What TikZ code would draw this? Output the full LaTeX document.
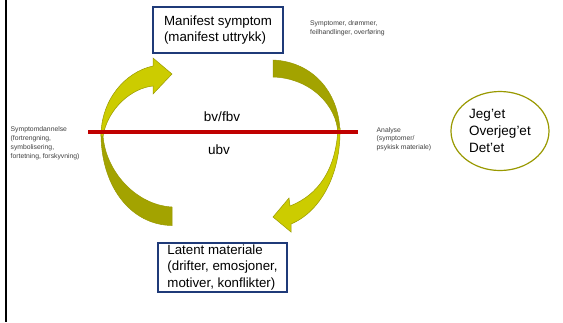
\documentclass[tikz,border=0pt]{standalone}
\usepackage{fontspec}
\setmainfont{Liberation Sans}
\usetikzlibrary{shapes.geometric}
\definecolor{lightY}{HTML}{CCCC00}
\definecolor{darkY}{HTML}{A3A300}
\definecolor{edgeY}{HTML}{999900}
\definecolor{boxblue}{HTML}{1F3A78}
\definecolor{redline}{HTML}{C00000}
\definecolor{smallgray}{HTML}{404040}
\tikzset{
  bigbox/.style={draw=boxblue, line width=1.3pt, fill=white, align=left, inner xsep=0pt,
    inner ysep=1pt, font=\fontsize{13.3}{16.5}\selectfont},
  smalltxt/.style={align=left, inner sep=0pt, anchor=west, text=smallgray,
    font=\fontsize{6.8}{8.8}\selectfont},
  midtxt/.style={inner sep=0pt, font=\fontsize{13.5}{17}\selectfont},
  backface/.style={fill=darkY, draw=edgeY, line width=0.5pt},
  frontface/.style={fill=lightY, draw=edgeY, line width=0.5pt},
}
\begin{document}
\begin{tikzpicture}[x=1pt, y=-1pt]
\useasboundingbox (0,0) rectangle (563,322);
\fill[white] (0,0) rectangle (563,322);
% left border bar
\draw[line width=2.3pt, black] (6.2,0) -- (6.2,322);

% left arrow (back face, then front face)
\fill[backface] (101,131) .. controls (100,185) and (130,225) .. (172,225.5)
  -- (172,207) .. controls (135,205) and (105,170) .. (103,135) -- cycle;
\fill[frontface] (101,136) .. controls (101,100) and (125,72) .. (153,66)
  -- (153,58) -- (172,74) -- (153,94) -- (153,86)
  .. controls (132,88) and (108,108) .. (103,136) -- cycle;

% right arrow
\fill[backface] (273,60) .. controls (315,62) and (340,95) .. (340,134)
  -- (338,134) .. controls (337,105) and (310,78) .. (273,77) -- cycle;
\fill[frontface] (340,128) .. controls (341,175) and (320,212) .. (291,224)
  -- (291,232) -- (273,217) -- (289,198) -- (290,206)
  .. controls (318,195) and (336,170) .. (338,128) -- cycle;

% boxes
\node[bigbox, minimum width=130pt, minimum height=46pt] (manifest) at (218,30)
  {Manifest symptom\\(manifest uttrykk)};
\node[bigbox, minimum width=129pt, minimum height=49pt] (latent) at (222.5,267.5)
  {Latent materiale\\(drifter, emosjoner,\\motiver, konflikter)};

% ellipse
\node[draw=edgeY, line width=1.2pt, ellipse, minimum width=98pt, minimum height=79pt,
  align=left, inner sep=0pt, font=\fontsize{13.5}{16.8}\selectfont] (ego) at (500,131)
  {Jeg’et\\Overjeg’et\\Det’et};

% small texts
\node[smalltxt] (topnote) at (310,28) {Symptomer, drømmer,\\feilhandlinger, overføring};
\node[smalltxt] (leftnote) at (10.5,143.4) {Symptomdannelse\\(fortrengning,\\symbolisering,\\fortetning, forskyvning)};
\node[smalltxt] (rightnote) at (376.5,139.2) {Analyse\\(symptomer/\\psykisk materiale)};

% bv / ubv
\node[midtxt] (bv) at (222,116.7) {bv/fbv};
\node[midtxt] (ubv) at (219,150) {ubv};

% red line
\coordinate (rl) at (88,131.8);
\coordinate (rr) at (358,131.8);
\draw[redline, line width=4.5pt] (rl) -- (rr);
\end{tikzpicture}
\end{document}
